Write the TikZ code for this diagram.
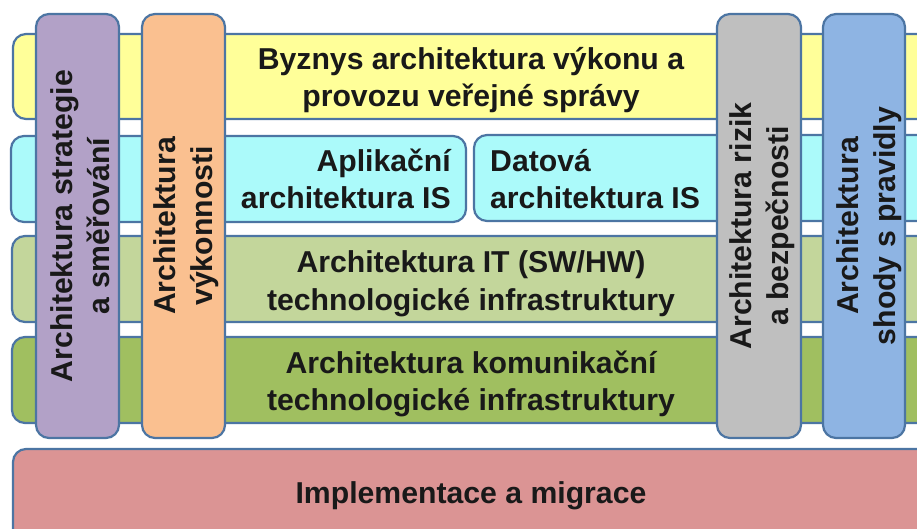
\documentclass[tikz,border=0pt]{standalone}
\usepackage{fontspec}
\setmainfont{Liberation Sans}
\definecolor{edgeblue}{HTML}{4C75A3}
\definecolor{cyellow}{HTML}{FFFF99}
\definecolor{ccyan}{HTML}{ABFAFA}
\definecolor{clgreen}{HTML}{C3D69B}
\definecolor{cdgreen}{HTML}{A0BF60}
\definecolor{cpurple}{HTML}{B2A1C7}
\definecolor{corange}{HTML}{FAC090}
\definecolor{cgray}{HTML}{BFBFBF}
\definecolor{cblue}{HTML}{8EB4E3}
\definecolor{cred}{HTML}{DB9494}
\tikzset{
  panel/.style={draw=edgeblue,line width=2.2pt,rounded corners=13pt},
  lbl/.style={font=\fontsize{30.2}{37.5}\selectfont\bfseries,text=black!90,inner sep=0pt},
}
\begin{document}
\begin{tikzpicture}[x=1pt,y=-1pt]
\useasboundingbox (0,0) rectangle (917,529);
\clip (0,0) rectangle (917,529);
\fill[white] (0,0) rectangle (917,529);
% horizontal layers
\draw[panel,fill=cyellow] (13,34) rectangle (960,119);
\draw[panel,fill=ccyan] (11,136) rectangle (466,222);
\draw[panel,fill=ccyan] (474,135) rectangle (960,221);
\draw[panel,fill=clgreen] (12,236) rectangle (960,322);
\draw[panel,fill=cdgreen] (12,337) rectangle (960,423);
\draw[panel,fill=cred] (13,449) rectangle (960,560);
% vertical columns
\draw[panel,fill=cpurple] (36,14) rectangle (119,438);
\draw[panel,fill=corange] (142,14) rectangle (225,438);
\draw[panel,fill=cgray] (717,14) rectangle (801,438);
\draw[panel,fill=cblue] (823,14) rectangle (905,438);
% layer labels
\node[lbl,align=center] (byz) at (471,80) {Byznys architektura výkonu a\\provozu veřejné správy};
\node[lbl,align=right,anchor=east] (apl) at (451,179) {Aplikační\\architektura IS};
\node[lbl,align=left,anchor=west] (dat) at (490,179) {Datová\\architektura IS};
\node[lbl,align=center] (itl) at (471,284) {Architektura IT (SW/HW)\\technologické infrastruktury};
\node[lbl,align=center] (kom) at (471,384) {Architektura komunikační\\technologické infrastruktury};
\node[lbl] (imp) at (471,496) {Implementace a migrace};
% column labels
\node[lbl,align=center,rotate=90] (cs) at (80,226) {Architektura strategie\\a směřování};
\node[lbl,align=center,rotate=90] (cv) at (186,226) {Architektura\\výkonnosti};
\node[lbl,align=center,rotate=90] (cr) at (762,226) {Architektura rizik\\a bezpečnosti};
\node[lbl,align=center,rotate=90] (cp) at (869,226) {Architektura\\shody s pravidly};
\end{tikzpicture}
\end{document}
